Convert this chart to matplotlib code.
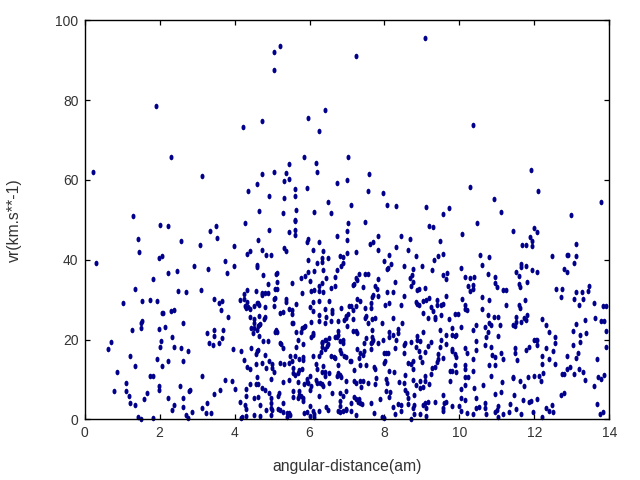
import matplotlib
matplotlib.use('Agg')
import matplotlib.pyplot as plt
from matplotlib.markers import MarkerStyle
from matplotlib.transforms import Affine2D

# values, grouped by region
dist_top = [0.23,1.30,1.89,2.29,3.14,4.23,4.37,4.61,4.66,4.72,4.74,4.93,5.06,5.06,5.20,5.06,5.28,5.33,5.33,5.38,
            5.44,5.46,5.60,5.60,5.60,5.65,5.86,5.92,5.97,6.13,6.18,6.21,6.24,6.40,6.48,6.58,6.74,7.01,7.04,7.12,
            7.25,7.57,7.60,7.95,8.08,8.32,9.07,9.12,9.55,9.71,10.27,10.35,10.93,11.12,11.90,12.11,12.99,13.79]
vr_top = [61.9,50.9,78.4,65.7,60.9,73.2,57.1,58.9,52.1,74.7,61.4,55.9,92.0,87.5,93.5,61.9,51.6,59.6,55.4,61.7,
          63.9,60.2,57.6,55.9,49.9,52.4,65.7,57.9,75.4,51.9,64.2,61.9,72.2,77.4,54.4,51.6,59.1,59.9,65.7,53.6,
          91.0,57.1,61.4,56.6,53.6,53.4,95.5,53.1,51.4,52.9,58.1,73.7,55.1,51.9,62.4,57.1,51.1,54.4]

dist_left = [0.31,0.63,0.69,0.77,0.85,1.11,1.11,1.19,1.22,1.22,1.25,1.33,1.33,1.35,1.41,1.46,1.43,1.51,1.49,1.49,
             1.54,1.54,1.57,1.01,1.67,1.73,1.73,1.81,1.81,1.83,1.94,1.94,1.97,1.97,1.99,1.99,2.02,2.02,2.04,2.07,
             2.07,2.10,2.07,2.15,2.21,2.21,2.23,2.23,2.29,2.34,2.34,2.37,2.37,2.39,2.47,2.50,2.53,2.58,2.58,2.61,
             2.61,2.61,2.63,2.71,2.71,2.76,2.76,2.79,2.82,2.87,2.93,3.09,3.11,3.14,3.14,3.25,3.27,3.27,3.30,3.33,
             3.35,3.38,3.43,3.46,3.46,3.46,3.46,3.51,3.54,3.59,3.59,3.62,3.65,3.67,3.67,3.70,3.75,3.75,3.81,3.83,
             3.94,3.97,3.99,3.99,4.02,4.15,4.15,4.18,4.18,4.21,4.26,4.26,4.26,4.29,4.29,4.29,4.31,4.31,4.31,4.31,
             4.31,4.34,4.34,4.34,4.34,4.37,4.40,4.42,4.42,4.40,4.42,4.45,4.45,4.50,4.53,4.53,4.53,4.53,4.53,4.53,
             4.56,4.56,4.56,4.58,4.61,4.61,4.61,4.61,4.61,4.61,4.63,4.63,4.63,4.63,4.63,4.63,4.66,4.66,4.66,4.66]
vr_left = [39.1,17.5,19.3,7.0,11.8,9.0,7.0,5.8,15.8,4.0,22.3,13.3,3.5,32.6,45.1,41.9,0.5,0.0,22.8,24.1,
           24.6,29.6,5.0,29.1,6.5,29.8,10.8,35.1,0.3,10.8,29.6,15.0,8.3,7.3,40.4,22.6,48.6,18.0,19.5,40.9,
           26.6,26.6,13.3,23.1,48.4,14.5,36.6,5.3,27.1,20.6,2.3,27.3,3.5,18.0,37.1,32.1,8.3,44.6,17.8,24.1,
           14.5,5.3,3.0,31.8,1.0,17.0,0.3,7.0,7.3,1.8,38.3,43.6,32.3,10.8,2.8,1.5,21.6,4.0,37.6,19.0,
           47.1,1.5,18.5,30.1,22.3,20.8,6.3,48.4,45.4,29.1,19.0,7.3,27.3,29.6,20.3,22.3,39.6,9.8,36.6,25.6,
           9.5,17.5,43.4,38.3,7.5,29.8,4.3,17.0,0.3,0.5,31.3,30.1,14.8,49.1,28.3,3.5,27.8,7.5,5.8,2.5,
           0.8,41.4,32.3,29.3,13.0,28.1,12.5,42.1,27.6,25.6,8.8,22.8,17.8,21.6,28.3,25.1,24.1,22.8,5.3,1.0,
           32.1,16.3,13.8,8.8,38.6,38.1,29.1,22.3,17.0,10.5,44.9,29.1,23.3,17.3,8.8,5.5,28.6,25.8,20.8,23.6]

dist_mid_a = [4.74,4.85,4.96,4.93,4.77,4.90,5.10,5.13,5.14,5.09,5.14,4.72,4.72,4.82,4.88,4.80,5.04,5.09,5.04,4.82,
              4.79,4.69,4.77,4.88,4.82,4.74,4.85,4.93,5.00,5.01,5.06,4.96,4.72,4.82,4.93,4.98,4.69,4.85,4.96,4.96,
              5.00,4.96,4.69,5.17,5.22,5.28,5.30,5.19,5.17,5.28,5.46,5.57,5.57,5.41,5.46,5.49,5.41,5.22,5.33,5.44,
              5.54,5.57,5.57,5.60,5.68,5.73,5.81,5.49,5.60,5.73,5.83,5.83,5.65,5.83,5.68,5.65,5.78,5.81,5.89,5.52,
              5.57,5.22,5.30,5.46,5.54,5.52,5.65,5.36,5.38,5.81,5.52,5.78,5.89,5.97,6.02,6.05,6.13,6.13,6.24,6.26,
              6.34,6.37,6.45,6.58,6.69,6.69,6.72,5.97,6.21,6.34,6.34,6.37,6.50,6.08,6.37,5.92,5.97,6.26,5.33,5.38,
              5.46,5.60,5.60,5.60,6.72,7.04,7.01,7.01,7.01,6.80,6.90,7.23,6.90,6.85,7.49,7.62,7.70,7.84,7.84,8.12,
              8.32,8.45,8.67,8.64,8.83,9.20,9.30,9.47,9.44,9.33,9.28,8.99,8.77,8.74,8.67,8.77,8.72,8.51,8.18,8.10,
              8.08,7.99,8.29,7.84,7.74,7.81,7.49,7.55,7.33,7.25,7.28,7.20,7.17,7.44,8.08,8.24,7.84,7.70,7.68,8.51]
vr_mid_a = [42.4,41.1,41.1,47.4,36.1,33.8,36.3,36.6,34.3,32.6,32.6,31.6,31.1,31.6,31.6,28.1,30.1,30.3,28.3,25.6,
            25.1,23.8,19.5,19.5,16.0,14.0,12.8,14.5,12.8,13.8,11.8,10.0,7.8,7.3,6.5,5.3,3.5,2.3,4.0,2.8,
            2.3,1.0,0.8,2.5,2.3,1.8,4.0,6.5,5.8,9.3,9.8,7.0,5.5,1.5,1.5,1.0,0.5,14.0,13.8,14.0,
            14.5,12.8,11.5,11.0,11.5,12.3,12.5,15.8,15.8,15.0,15.5,14.8,18.0,18.8,20.0,21.8,21.8,22.8,23.3,24.1,
            24.1,26.6,26.8,27.6,27.3,26.3,28.8,30.1,29.3,31.6,34.1,35.3,35.8,36.8,34.6,32.1,37.1,32.3,33.3,32.1,
            34.1,31.8,35.3,32.8,35.6,33.3,37.3,39.8,39.1,40.4,39.3,37.3,40.4,42.4,42.1,44.4,45.1,44.4,42.9,42.1,
            46.9,47.4,46.1,49.7,45.9,49.1,47.1,44.9,41.6,40.9,40.6,41.9,39.1,38.3,49.4,43.9,44.4,45.9,42.4,41.1,
            43.1,45.9,45.1,42.4,40.9,48.4,48.1,44.6,40.9,39.8,37.3,38.3,37.6,36.1,35.3,34.3,33.3,38.3,38.8,37.8,
            37.6,39.6,34.3,35.1,33.3,32.6,36.3,36.3,36.3,35.3,34.8,33.8,33.6,33.1,31.8,31.8,30.8,31.1,30.6,30.8]

dist_mid_b = [8.88,8.91,9.07,9.02,9.12,9.20,8.85,8.88,8.91,9.23,9.30,9.39,9.41,9.02,9.15,9.36,9.36,8.02,8.13,8.45,
              7.65,7.65,7.49,7.36,7.28,7.25,7.06,7.12,6.85,6.53,6.24,6.08,6.00,6.08,6.42,6.24,6.45,6.61,6.61,7.17,
              7.04,6.98,6.96,6.93,6.77,6.58,6.24,6.05,6.40,7.17,7.01,7.52,7.49,7.55,7.68,7.76,7.94,8.24,8.48,7.68,
              7.17,7.23,7.28,6.77,6.77,6.74,6.69,6.10,6.08,6.05,5.86,6.42,6.53,6.34,6.32,6.45,6.50,6.47,6.82,6.90,
              6.90,6.32,6.40,6.30,6.26,6.08,6.56,6.64,6.69,6.80,6.83,6.93,6.96,7.09,7.12,7.36,7.33,7.36,7.26,7.44,
              7.46,7.46,7.52,7.63,7.68,7.70,7.68,7.84,7.65,7.97,8.13,8.13,8.24,8.35,8.37,8.32,8.29,8.53,8.56,8.72,
              8.88,8.88,8.96,9.02,8.83,8.51,8.00,8.05,8.10,8.02,8.00,7.52,7.73,7.76,7.20,8.13,8.26,8.56,8.64,8.72,
              8.75,8.75,8.93,8.96,9.07,9.17,9.25,9.44,9.44,9.41,9.36,9.28,9.23,9.09,8.99,5.22,5.25,5.28,5.11,5.09,
              5.14,6.16,6.21,6.37,6.32,6.40,6.53,6.40,6.77,6.77,6.74,6.80,6.83,6.00,5.94,5.92,5.97,5.68,5.86,6.18]
vr_mid_b = [32.3,32.6,32.8,29.6,29.8,30.3,29.3,28.8,28.6,28.1,27.1,29.8,28.6,26.6,25.3,25.6,25.1,28.6,29.1,28.6,
            29.1,27.8,27.8,29.6,30.1,28.3,28.3,28.3,27.8,29.6,29.6,29.3,28.1,27.1,27.6,26.1,25.6,27.3,26.6,27.3,
            26.3,25.8,25.3,24.8,24.6,24.6,24.6,24.3,24.1,25.1,23.3,25.8,25.3,24.1,25.1,25.3,24.1,25.3,24.1,22.3,
            22.1,22.1,21.6,22.1,21.1,20.6,20.6,21.6,21.1,20.6,23.1,20.0,20.3,19.3,19.0,19.8,18.8,18.3,19.5,20.0,
            19.0,18.0,17.5,16.8,15.8,15.8,15.8,15.5,15.3,17.3,16.5,15.8,15.5,14.5,14.5,16.5,15.3,13.5,17.5,16.0,
            17.0,19.0,20.3,19.0,20.6,20.0,19.3,19.0,17.5,20.0,21.8,20.6,21.1,22.6,21.6,20.0,17.8,18.5,19.0,19.3,
            20.8,20.0,19.5,21.8,18.0,16.5,16.5,16.5,16.5,14.5,14.0,13.5,13.0,12.5,12.3,12.0,11.8,11.0,14.0,13.8,
            14.5,12.5,17.0,15.5,16.8,18.3,19.3,16.3,15.0,14.3,13.0,12.8,11.3,10.8,14.3,19.0,18.8,17.8,22.3,21.8,
            21.8,13.8,12.5,13.3,11.8,11.8,11.5,10.8,13.5,11.5,10.8,11.0,10.5,10.8,10.0,9.3,9.0,9.3,8.8,9.8]

dist_mid_c = [6.21,6.29,6.32,6.37,6.53,6.00,6.03,6.24,5.73,5.73,5.70,5.78,5.83,5.83,6.61,6.82,6.88,6.98,6.80,6.80,
              6.45,6.50,6.00,6.24,6.10,5.86,5.94,6.02,6.13,6.13,6.77,6.82,6.90,6.96,6.98,7.12,7.12,7.25,7.20,7.25,
              7.33,7.30,7.36,7.41,7.38,7.36,7.44,7.55,7.20,7.23,6.98,7.78,7.76,7.65,7.89,7.73,7.94,8.00,8.05,8.05,
              8.08,8.16,8.13,8.24,8.29,8.37,8.45,8.45,8.40,8.51,8.56,8.59,8.62,8.64,8.80,8.77,8.83,8.96,8.96,9.07,
              9.04,9.20,8.80,8.77,8.80,8.72,8.96,9.02,9.09,9.15,9.36,9.12,9.12]
vr_mid_c = [9.0,9.0,8.8,8.3,9.0,7.3,8.3,5.8,7.0,6.0,5.3,5.8,5.3,4.5,6.5,6.5,5.8,7.0,4.5,3.3,
            3.0,2.3,3.3,2.0,2.0,1.5,1.8,0.8,0.5,1.3,2.0,1.8,2.0,2.5,2.3,2.0,4.0,1.0,5.5,5.0,
            5.0,4.3,4.0,3.8,8.0,9.5,9.5,9.0,9.5,9.0,9.5,10.3,8.8,4.0,5.0,1.5,0.5,0.3,7.0,10.0,
            9.0,6.8,5.5,3.0,1.3,3.8,2.0,3.5,9.3,9.0,7.3,6.5,5.3,3.8,6.0,9.8,8.5,9.5,7.8,9.5,
            8.0,8.8,3.5,2.8,1.3,0.0,1.3,3.5,4.0,4.3,4.3,2.8,0.8]

dist_right_a = [9.55,9.68,9.57,9.65,10.08,10.48,11.42,11.98,12.08,11.89,11.95,11.68,11.79,11.95,13.12,10.56,10.80,10.61,10.03,10.16,
                10.27,10.40,10.75,10.94,10.94,11.01,10.24,10.37,10.35,10.27,9.63,11.17,11.23,11.65,11.65,11.79,11.95,12.08,11.52,11.58,
                11.81,11.58,11.63,12.48,12.86,12.91,13.10,13.07,12.80,12.86,12.59,12.73,12.70,13.47,13.44,13.12,13.28,13.07,13.31,13.20,
                13.60,13.82,13.90,13.63,13.79,13.87,13.90,13.92,13.34,13.12,13.04,13.23,13.39,13.23,13.02,13.17,13.12,12.86,13.66,12.21,
                12.32,12.40,12.54,12.54,12.32,12.51,12.21,12.40,12.21,12.54,12.00,12.05,12.08,12.08,11.87,11.79,11.49,11.49,11.55,11.12]
vr_right_a = [41.4,36.6,36.1,35.1,46.4,49.1,47.1,47.9,46.9,45.6,44.6,43.6,43.6,43.4,43.9,41.1,40.6,38.6,37.8,35.6,
              35.3,35.6,36.3,35.6,34.1,33.1,33.3,33.6,32.6,32.1,30.8,32.3,32.3,38.8,38.1,38.3,37.3,36.8,36.8,35.8,
              34.3,33.8,33.1,40.9,41.1,41.1,40.9,39.1,37.6,36.8,32.6,32.6,30.6,33.3,32.1,31.8,31.8,30.1,30.1,28.6,
              29.1,28.3,28.3,25.3,24.6,24.6,22.1,18.0,24.8,23.8,22.1,21.1,21.6,19.3,18.5,16.5,15.3,15.8,15.0,25.1,
              23.6,21.8,20.6,19.0,17.8,17.0,15.8,15.0,13.8,13.8,19.8,19.8,20.0,18.5,18.0,17.3,17.8,16.5,14.8,16.5]

dist_right_b = [11.17,10.96,10.88,10.83,10.67,10.72,10.75,11.04,10.67,10.80,10.85,11.09,10.91,11.04,10.77,10.59,10.59,10.78,11.25,11.58,
                11.63,11.76,11.81,11.73,11.79,11.52,11.65,11.52,11.49,11.42,10.43,10.37,10.43,10.43,10.14,10.19,10.35,10.14,10.14,10.37,
                10.80,10.96,10.83,10.14,10.24,10.03,9.81,9.73,9.89,9.95,9.52,9.52,9.57,10.08,10.16,10.16,10.19,9.49,9.52,9.63,
                9.79,9.89,9.92,9.63,9.49,9.57,9.79,9.79,9.89,9.92,9.87,9.76,9.81,9.92,9.76,10.03,10.16,10.40,10.64,9.55,
                9.60,9.65,9.55,9.57,9.79,10.00,10.03,10.14,10.05,10.19,10.37,10.43,10.45,10.53,10.67,10.67,10.72,10.94,10.96,11.01]
vr_right_b = [15.0,15.5,16.0,18.0,18.5,20.6,21.8,20.8,23.1,24.1,23.6,23.6,25.6,25.6,26.1,27.6,30.6,29.8,28.6,28.6,
              27.8,29.8,26.1,25.3,24.8,25.6,24.3,24.3,23.3,23.6,23.6,22.3,19.5,17.3,17.8,16.5,15.0,13.5,12.5,12.0,
              13.5,13.5,10.8,10.5,10.5,23.1,22.8,25.1,26.3,26.3,26.1,28.6,28.8,30.1,28.6,27.6,27.3,22.3,20.0,21.1,
              21.1,20.8,21.1,18.8,18.0,15.3,17.5,17.0,16.3,15.5,13.5,12.0,12.0,11.8,9.5,7.5,8.5,7.8,8.5,6.0,
              4.0,4.3,2.8,2.0,3.3,3.3,5.3,4.8,2.0,1.5,1.3,2.8,5.3,3.0,4.0,2.8,1.3,1.8,6.3,2.3]

dist_right_c = [11.04,11.04,11.12,11.14,11.17,11.33,11.36,11.47,11.52,11.65,11.70,11.73,11.63,11.42,11.44,11.84,12.00,12.13,12.24,12.19,
                11.87,11.92,12.08,11.97,12.21,12.32,12.38,12.48,12.51,12.70,12.80,12.73,12.80,12.86,12.96,13.07,13.20,13.31,13.34,13.58,
                13.71,13.79,13.87,13.66,13.76,13.84]
vr_right_c = [3.3,0.5,6.8,9.3,1.3,1.8,3.8,6.0,2.5,1.3,4.8,8.3,9.5,10.5,10.3,10.5,10.8,10.8,11.5,9.5,
              4.3,4.5,5.0,1.8,0.5,2.8,2.0,3.5,1.8,6.0,6.5,11.3,11.3,12.5,13.0,11.3,12.5,11.8,9.8,8.3,
              10.5,10.0,11.0,3.8,1.3,1.8]

xticks = [0, 2, 4, 6, 8, 10, 12, 14]
yticks = [0, 20, 40, 60, 80, 100]

plt.rcParams['font.family'] = ['Liberation Sans', 'DejaVu Sans']

fig = plt.figure(figsize=(6.4, 4.8), dpi=100)
ax = fig.add_axes([84.7/640., 1.-419.3/480., 524.6/640., 399./480.])

dist = dist_top + dist_left + dist_mid_a + dist_mid_b + dist_mid_c + dist_right_a + dist_right_b + dist_right_c
vr = vr_top + vr_left + vr_mid_a + vr_mid_b + vr_mid_c + vr_right_a + vr_right_b + vr_right_c

# gnuplot dots are narrow ovals
dot = MarkerStyle('o', transform=Affine2D().scale(0.72, 1.))
ax.plot(dist, vr, linestyle='none', marker=dot, ms=4.0, mew=0, color='#00008b', clip_on=False)

ax.set_xlim(0, 14)
ax.set_ylim(0, 100)
ax.set_xticks(xticks)
ax.set_yticks(yticks)
ax.tick_params(direction='in', top=True, right=True, length=3.5, width=0.9, labelsize=10, pad=4.5, colors='#000000')
ax.tick_params(axis='both', labelcolor='#333333')
for s in ax.spines.values():
    s.set_linewidth(1.0)
ax.set_xlabel('angular-distance(am)', fontsize=11.3, color='#333333', labelpad=14)
ax.set_ylabel('vr(km.s**-1)', fontsize=11.3, color='#333333', labelpad=24)

plt.savefig('out.png', dpi=100)
